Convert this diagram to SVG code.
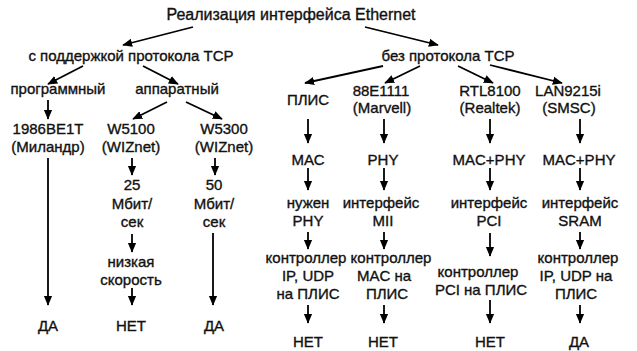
<svg xmlns="http://www.w3.org/2000/svg" width="637" height="351" viewBox="0 0 637 351">
<defs>
<marker id="ah" markerWidth="10" markerHeight="12" refX="11" refY="5" orient="auto" markerUnits="userSpaceOnUse" viewBox="0 0 12 10">
<path d="M0,0 L12,5 L0,10 z" fill="#000"/>
</marker>
<style>
text{font-family:"Liberation Sans",Arial,sans-serif;font-size:15px;fill:#111;stroke:#111;stroke-width:0.35;text-anchor:middle}
.big{font-size:16px}
.c line{stroke:#000;stroke-width:1.8;marker-end:url(#ah)}
</style>
</defs>
<rect width="637" height="351" fill="#fff"/>
<g id="title"><text class="big" x="291" y="20">Реализация интерфейса Ethernet</text></g>
<g id="tcp"><text x="131" y="61">с поддержкой протокола ТСР</text></g>
<g id="notcp"><text x="448" y="61">без протокола ТСР</text></g>
<g id="prog"><text x="58" y="94">программный</text></g>
<g id="hw"><text x="177" y="94">аппаратный</text></g>
<g id="milandr"><text x="48" y="134">1986ВЕ1Т</text><text x="48" y="152">(Миландр)</text></g>
<g id="w5100"><text x="131" y="134">W5100</text><text x="131" y="152">(WIZnet)</text></g>
<g id="w5300"><text x="224" y="134">W5300</text><text x="224" y="152">(WIZnet)</text></g>
<g id="s25"><text x="132" y="190">25</text><text x="132" y="209">Мбит/</text><text x="132" y="227">сек</text></g>
<g id="s50"><text x="214" y="190">50</text><text x="214" y="209">Мбит/</text><text x="214" y="227">сек</text></g>
<g id="low"><text x="131" y="267">низкая</text><text x="131" y="285">скорость</text></g>
<g id="r1"><text x="48" y="331">ДА</text></g>
<g id="r2"><text x="131" y="331">НЕТ</text></g>
<g id="r3"><text x="214" y="331">ДА</text></g>
<g id="plis"><text x="308" y="105">ПЛИС</text></g>
<g id="marvell"><text x="381" y="96">88E1111</text><text x="382" y="113">(Marvell)</text></g>
<g id="realtek"><text x="490" y="96">RTL8100</text><text x="490" y="113">(Realtek)</text></g>
<g id="smsc"><text x="568" y="96">LAN9215i</text><text x="569" y="113">(SMSC)</text></g>
<g id="mac1"><text x="308" y="165">МАС</text></g>
<g id="phy2"><text x="383" y="165">PHY</text></g>
<g id="macphy3"><text x="489" y="165">MAC+PHY</text></g>
<g id="macphy4"><text x="579" y="165">MAC+PHY</text></g>
<g id="needphy"><text x="308" y="208">нужен</text><text x="308" y="226">PHY</text></g>
<g id="mii"><text x="381" y="208">интерфейс</text><text x="383" y="226">MII</text></g>
<g id="pci"><text x="489" y="208">интерфейс</text><text x="489" y="226">PCI</text></g>
<g id="sram"><text x="580" y="208">интерфейс</text><text x="580" y="226">SRAM</text></g>
<g id="ctl1"><text x="306" y="263">контроллер</text><text x="308" y="281">IP, UDP</text><text x="308" y="299">на ПЛИС</text></g>
<g id="ctl2"><text x="391" y="263">контроллер</text><text x="384" y="281">MAC на</text><text x="387" y="299">ПЛИС</text></g>
<g id="ctl3"><text x="478" y="277">контроллер</text><text x="481" y="295">PCI на ПЛИС</text></g>
<g id="ctl4"><text x="578" y="263">контроллер</text><text x="576" y="281">IP, UDP на</text><text x="576" y="299">ПЛИС</text></g>
<g id="e1"><text x="308" y="347">НЕТ</text></g>
<g id="e2"><text x="383" y="347">НЕТ</text></g>
<g id="e3"><text x="490" y="347">НЕТ</text></g>
<g id="e4"><text x="579" y="347">ДА</text></g>
<g class="c" id="connectors">
<line x1="193" y1="27" x2="123" y2="45"/>
<line x1="365" y1="27" x2="438" y2="45"/>
<line x1="83" y1="66" x2="48" y2="84"/>
<line x1="143" y1="66" x2="178" y2="84"/>
<line x1="383" y1="66" x2="305" y2="83"/>
<line x1="420" y1="66" x2="385" y2="83"/>
<line x1="458" y1="66" x2="493" y2="83"/>
<line x1="490" y1="65" x2="562" y2="83"/>
<line x1="48" y1="100" x2="48" y2="119"/>
<line x1="167" y1="102" x2="133" y2="119"/>
<line x1="186" y1="102" x2="222" y2="119"/>
<line x1="132" y1="158" x2="132" y2="175"/>
<line x1="215" y1="158" x2="215" y2="175"/>
<line x1="132" y1="234" x2="132" y2="252"/>
<line x1="132" y1="288" x2="132" y2="305"/>
<line x1="48" y1="158" x2="48" y2="305"/>
<line x1="213" y1="233" x2="213" y2="305"/>
<line x1="308" y1="119" x2="308" y2="143"/>
<line x1="308" y1="168" x2="308" y2="190"/>
<line x1="308" y1="232" x2="308" y2="249"/>
<line x1="308" y1="305" x2="308" y2="323"/>
<line x1="384" y1="119" x2="384" y2="143"/>
<line x1="384" y1="168" x2="384" y2="190"/>
<line x1="384" y1="232" x2="384" y2="249"/>
<line x1="384" y1="305" x2="384" y2="323"/>
<line x1="490" y1="119" x2="490" y2="143"/>
<line x1="490" y1="168" x2="490" y2="190"/>
<line x1="490" y1="233" x2="490" y2="256"/>
<line x1="490" y1="300" x2="490" y2="323"/>
<line x1="580" y1="119" x2="580" y2="143"/>
<line x1="580" y1="168" x2="580" y2="190"/>
<line x1="580" y1="232" x2="580" y2="249"/>
<line x1="580" y1="305" x2="580" y2="323"/>
</g>
</svg>
